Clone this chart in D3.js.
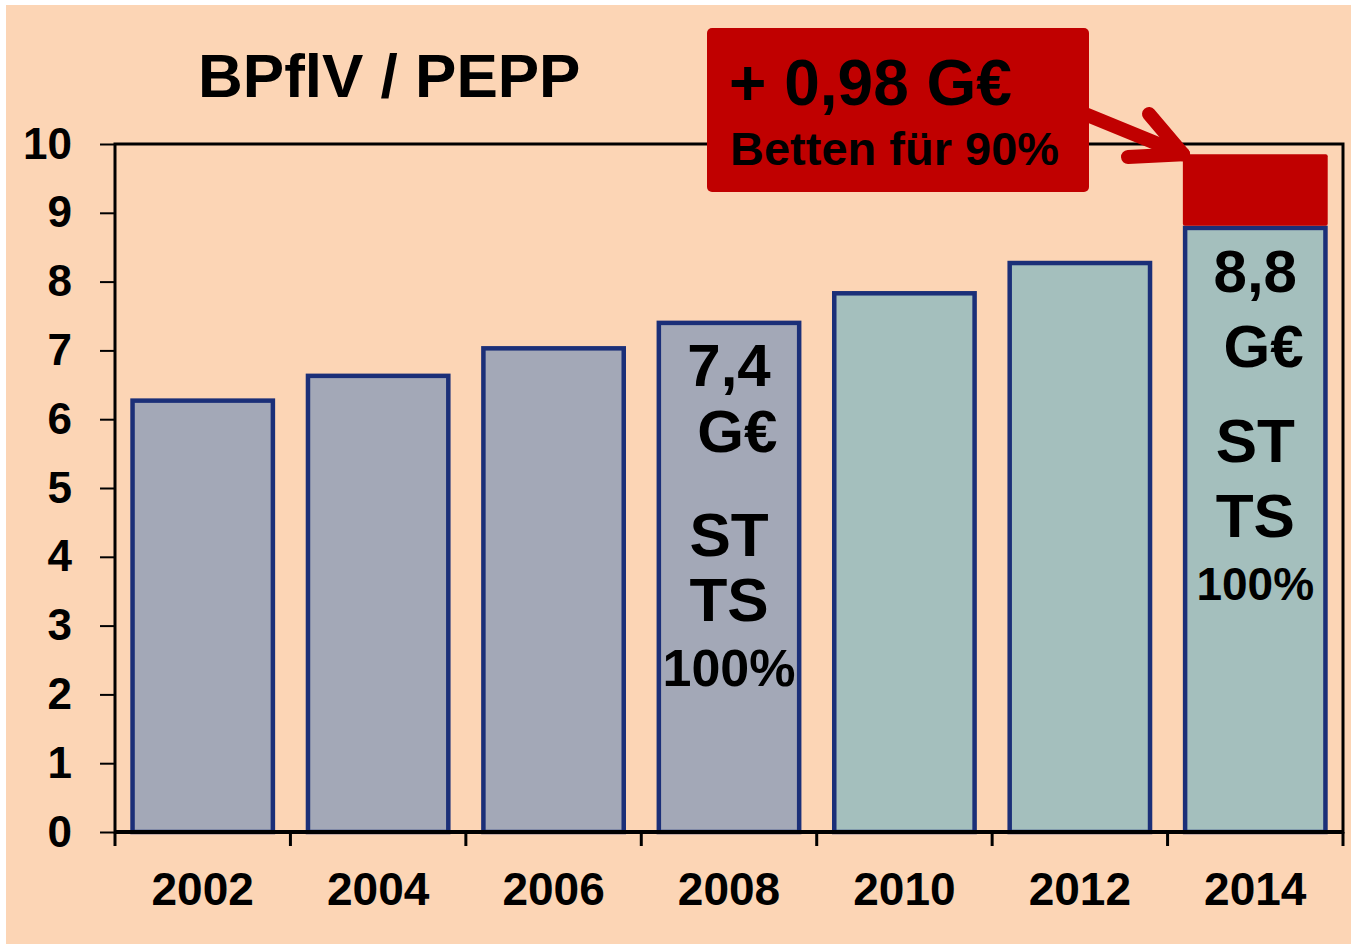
<!DOCTYPE html>
<html>
<head>
<meta charset="utf-8">
<script src="https://d3js.org/d3.v7.min.js"></script>
<style>
  body { margin: 0; background: #fff; }
  text { font-family: "Liberation Sans", Arial, sans-serif; font-weight: bold; fill: #000; }
</style>
</head>
<body>
<div id="chart"></div>
<script>
var years = ["2002", "2004", "2006", "2008", "2010", "2012", "2014"];
var values = [6.27, 6.63, 7.03, 7.40, 7.83, 8.27, 8.78];
var extra = [0, 0, 0, 0, 0, 0, 1.07];   // red block on top of 2014
var yTicks = [0, 1, 2, 3, 4, 5, 6, 7, 8, 9, 10];
var barLabels = [
  { year: "2008", lines: ["7,4", " G€", "ST", "TS", "100%"], sizes: [60, 60, 62, 62, 52], offs: [63, 129, 233, 298, 363] },
  { year: "2014", lines: ["8,8", " G€", "ST", "TS", "100%"], sizes: [60, 60, 62, 62, 46], offs: [64, 139, 234, 309, 372] }
];

var W = 1351, H = 944;
var margin = {top: 144, right: 8, bottom: 112, left: 115},
    width = W - margin.left - margin.right,
    height = H - margin.top - margin.bottom;

var svg = d3.select("#chart").append("svg")
    .attr("width", W)
    .attr("height", H);

// background (thin white edge top/left)
svg.append("rect")
    .attr("x", 6).attr("y", 5)
    .attr("width", W - 6).attr("height", H - 5)
    .attr("fill", "#FCD5B5");

var g = svg.append("g")
    .attr("transform", "translate(" + margin.left + "," + margin.top + ")");

var x = d3.scaleBand()
    .domain(years)
    .range([0, width])
    .paddingInner(0.2)
    .paddingOuter(0.1);

var y = d3.scaleLinear()
    .domain([0, 10])
    .range([height, 0]);

// bars
g.selectAll(".bar")
    .data(years)
    .enter().append("rect")
      .attr("class", "bar")
      .attr("x", function(d) { return x(d); })
      .attr("y", function(d, i) { return y(values[i]); })
      .attr("width", x.bandwidth())
      .attr("height", function(d, i) { return height - y(values[i]); })
      .attr("fill", function(d, i) { return i < 4 ? "#A3A8B7" : "#A4BFBD"; })
      .attr("stroke", "#1B2F78")
      .attr("stroke-width", 4.5);

// red extra block
g.selectAll(".extra")
    .data(years.filter(function(d, i) { return extra[i] > 0; }))
    .enter().append("rect")
      .attr("class", "extra")
      .attr("x", function(d) { return x(d) - 2.25; })
      .attr("y", function(d) { var i = years.indexOf(d); return y(values[i] + extra[i]); })
      .attr("width", x.bandwidth() + 4.5)
      .attr("height", function(d) { var i = years.indexOf(d); return y(values[i]) - 2.25 - y(values[i] + extra[i]); })
      .attr("rx", 2)
      .attr("fill", "#C00000");

// plot frame
g.append("rect")
    .attr("x", 0).attr("y", 0)
    .attr("width", width).attr("height", height)
    .attr("fill", "none")
    .attr("stroke", "#000")
    .attr("stroke-width", 3);

// y axis
var yAxis = g.append("g")
    .call(d3.axisLeft(y).tickValues(yTicks).tickSize(15).tickPadding(28));
yAxis.select(".domain").remove();
yAxis.selectAll("line").attr("stroke", "#000").attr("stroke-width", 2);
yAxis.selectAll("text")
    .style("font-size", "44px")
    .style("font-family", "Liberation Sans, Arial, sans-serif")
    .style("font-weight", "bold")
    .attr("fill", "#000");

// x axis: ticks at category boundaries
var bounds = years.map(function(d) { return x(d) - x.step() * x.paddingInner() / 2; });
bounds.push(width);
var xAxis = g.append("g").attr("transform", "translate(0," + height + ")");
xAxis.append("line")
    .attr("x1", 0).attr("x2", width)
    .attr("stroke", "#000").attr("stroke-width", 4);
xAxis.selectAll(".xt")
    .data(bounds)
    .enter().append("line")
      .attr("x1", function(d) { return d; })
      .attr("x2", function(d) { return d; })
      .attr("y1", 0).attr("y2", 14)
      .attr("stroke", "#000").attr("stroke-width", 3);
xAxis.selectAll(".xl")
    .data(years)
    .enter().append("text")
      .attr("x", function(d) { return x(d) + x.bandwidth() / 2; })
      .attr("y", 73)
      .attr("text-anchor", "middle")
      .style("font-size", "46px")
      .text(function(d) { return d; });

// labels inside bars
barLabels.forEach(function(b) {
  var i = years.indexOf(b.year);
  var cx = x(b.year) + x.bandwidth() / 2;
  b.lines.forEach(function(t, k) {
    g.append("text")
      .attr("x", cx)
      .attr("y", y(values[i]) + b.offs[k])
      .attr("text-anchor", "middle")
      .style("font-size", b.sizes[k] + "px")
      .style("white-space", "pre")
      .text(t);
  });
});

// title
svg.append("text")
    .attr("x", 198).attr("y", 97)
    .style("font-size", "62px")
    .text("BPflV / PEPP");

// callout arrow
var i14 = years.length - 1;
var tipX = margin.left + x(years[i14]) - 2,
    tipY = margin.top + y(values[i14] + extra[i14]);
var arrow = svg.append("g")
    .attr("stroke", "#C00000")
    .attr("stroke-width", 14)
    .attr("stroke-linecap", "round")
    .attr("stroke-linejoin", "round")
    .attr("fill", "none");
arrow.append("line")
    .attr("x1", 1080).attr("y1", 112)
    .attr("x2", tipX).attr("y2", tipY);
arrow.append("polyline")
    .attr("points", [[1128, 157], [tipX, tipY], [1149, 114]].map(function(p) { return p.join(","); }).join(" "));

// callout box
svg.append("rect")
    .attr("x", 707).attr("y", 28)
    .attr("width", 382).attr("height", 164)
    .attr("rx", 5)
    .attr("fill", "#C00000");
svg.append("text")
    .attr("x", 729).attr("y", 105)
    .style("font-size", "64px")
    .text("+ 0,98 G€");
svg.append("text")
    .attr("x", 730).attr("y", 165)
    .style("font-size", "47px")
    .text("Betten für 90%");
</script>
</body>
</html>
